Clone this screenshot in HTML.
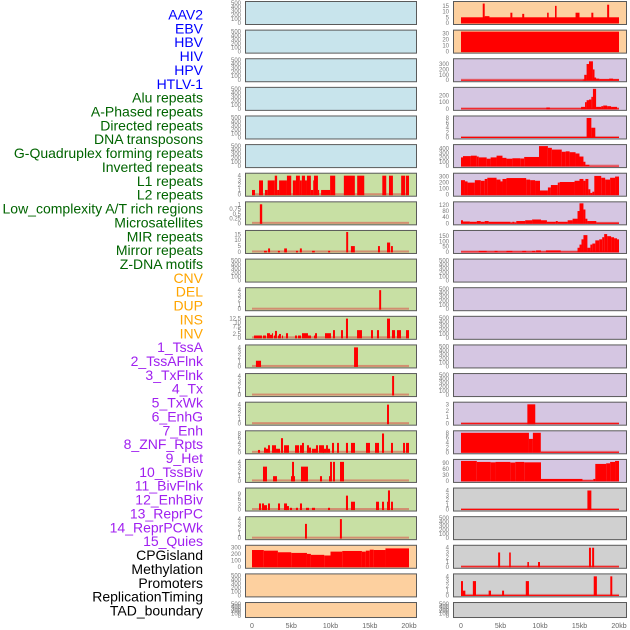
<!DOCTYPE html>
<html><head><meta charset="utf-8"><style>
html,body{margin:0;padding:0;background:#fff;width:630px;height:630px;overflow:hidden}
svg text{font-family:"Liberation Sans",sans-serif}
</style></head><body>
<svg id="chart" width="630" height="630" xmlns="http://www.w3.org/2000/svg"></svg>
<script>
// ---- data ----
const trackLabels = ["AAV2","EBV","HBV","HIV","HPV","HTLV-1","Alu repeats","A-Phased repeats","Directed repeats","DNA transposons","G-Quadruplex forming repeats","Inverted repeats","L1 repeats","L2 repeats","Low_complexity A/T rich regions","Microsatellites","MIR repeats","Mirror repeats","Z-DNA motifs","CNV","DEL","DUP","INS","INV","1_TssA","2_TssAFlnk","3_TxFlnk","4_Tx","5_TxWk","6_EnhG","7_Enh","8_ZNF_Rpts","9_Het","10_TssBiv","11_BivFlnk","12_EnhBiv","13_ReprPC","14_ReprPCWk","15_Quies","CPGisland","Methylation","Promoters","ReplicationTiming","TAD_boundary"];
const labelGroups = ["v","v","v","v","v","v","r","r","r","r","r","r","r","r","r","r","r","r","r","c","c","c","c","c","h","h","h","h","h","h","h","h","h","h","h","h","h","h","h","k","k","k","k","k"];
const xTickLabels = ["0","5kb","10kb","15kb","20kb"];
const xTickValues = [0,5,10,15,20];
const leftBg = ["b","b","b","b","b","b","g","g","g","g","g","g","g","g","g","g","g","g","g","o","o","o"];
const rightBg = ["o","o","p","p","p","p","p","p","p","p","p","p","p","p","p","p","p","y","y","y","y","y"];
const leftMax = [500,500,500,500,500,500,4.2,1.05,17,500,4.2,13,4.2,4.2,4.2,8.5,4.2,11.5,4.2,310,500,500];
const rightMax = [17.5,33,370,300,8.2,460,330,130,190,500,500,500,500,500,3.1,8.2,100,4.2,500,4.2,4.2,500];
const leftTicks = [null,null,null,null,null,null,[0,1,2,3,4],[0,0.25,0.5,0.75,1],[0,5,10,15],null,[0,1,2,3,4],[0,2.5,5,7.5,10,12.5],[0,1,2,3,4],[0,1,2,3,4],[0,1,2,3,4],[0,2,4,6,8],[0,1,2,3,4],[0,3,6,9],[0,1,2,3,4],[0,100,200,300],null,null];
const rightTicks = [[0,5,10,15],[0,10,20,30],[0,100,200,300],[0,100,200],[0,2,4,6,8],[0,100,200,300,400],[0,100,200,300],[0,40,80,120],[0,50,100,150],null,null,null,null,null,[0,1,2,3],[0,2,4,6,8],[0,30,60,90],[0,1,2,3,4],null,[0,1,2,3,4],[0,1,2,3,4],null];
const L6 = [[0,0.38,1],[0.9,1.4,3],[1.65,2.0,1],[2.0,2.9,3],[2.9,3.2,4],[3.2,3.45,1],[3.45,4.45,3],[4.45,5.0,4],[5.2,5.6,3],[5.6,6.1,4],[6.1,6.35,3],[6.35,6.75,4],[6.75,7.0,3],[7.0,7.5,4],[7.5,7.8,1],[7.8,7.9,3],[7.9,8.4,4],[8.4,8.55,1],[8.8,9.95,1],[9.95,10.6,4],[11.7,13.1,4],[13.4,14.3,4],[16.6,17.1,4],[17.45,17.95,4],[19.0,19.5,4],[19.6,20.0,4]];
const L7 = [[1.0,1.3,1]];
const L8 = [[1.53,1.9,1],[2.05,2.3,3],[3.3,3.55,1],[4.1,4.45,3],[5.6,5.85,1],[6.1,6.35,3],[7.65,8.0,1],[9.7,9.95,1],[12.0,12.25,17],[12.6,13.1,5],[16.05,16.3,5],[17.2,17.6,8],[17.7,17.95,5]];
const L10 = [[16.2,16.45,4]];
const L11 = [[0.25,1.27,1.5],[1.4,1.78,1.5],[1.91,2.29,3],[2.29,2.55,2],[2.55,2.68,3],[2.8,2.93,1.5],[2.93,3.18,4.5],[3.31,3.44,1.5],[3.44,3.69,2.5],[3.82,3.95,1.5],[4.33,4.59,3],[5.48,5.73,1.5],[5.86,6.24,1.5],[6.37,7.13,3],[7.13,7.52,1.5],[7.9,8.15,1.5],[8.03,8.28,3],[9.3,10.06,3],[10.32,10.57,5],[11.34,11.59,5],[11.97,12.23,12.5],[13.38,14.01,5],[15.16,15.41,5],[15.92,16.18,5],[17.2,17.58,12.5],[17.83,18.22,5],[18.47,18.98,5],[19.62,20.0,5]];
const L12 = [[0.5,1.15,1.2],[13.0,13.5,4]];
const L13 = [[17.85,18.1,4]];
const L14 = [[17.2,17.45,4]];
const L15 = [[0.76,1.02,1],[1.53,1.78,2],[1.78,2.04,1.5],[2.04,2.29,3],[2.55,3.06,3],[3.06,3.57,1.5],[3.69,3.95,6],[4.08,4.71,3],[5.48,5.99,3],[6.11,6.5,3],[6.37,6.62,4],[7.0,7.26,3],[7.26,7.52,2],[7.64,8.15,1.5],[8.15,8.41,3],[8.54,9.17,3],[9.04,9.43,1.5],[9.43,9.68,3],[9.68,9.94,1.5],[10.19,10.45,4],[10.83,11.08,4],[11.97,12.23,4],[12.61,13.12,4],[14.52,15.03,4],[15.67,16.18,4],[16.56,16.82,8],[17.71,17.96,4],[19.24,19.49,4],[19.62,20.0,4]];
const L16 = [[1.4,1.91,3],[2.68,3.18,1],[4.97,5.48,1],[5.1,5.35,4],[6.24,7.13,3],[8.66,8.92,1],[9.81,10.06,1],[9.94,10.19,4],[10.32,10.57,4],[11.21,11.72,4]];
const L17 = [[0.89,1.15,3.5],[1.27,1.53,3.5],[1.53,1.91,2.5],[2.04,2.29,3.5],[3.31,3.57,3.5],[4.08,4.46,3.5],[4.33,4.71,2],[4.84,5.1,1],[5.6,5.86,1],[6.11,6.37,3.5],[6.88,7.26,1],[7.64,8.03,1],[9.68,9.94,1],[11.97,12.23,8],[12.61,13.12,4.5],[15.8,16.18,4.5],[16.56,16.82,4.5],[17.2,17.45,4.5],[17.32,17.58,11],[17.71,17.96,4.5]];
const L18 = [[6.75,7.0,3],[11.2,11.45,4]];
const L19 = [[0,1.5,260],[1.5,3.3,250],[3.3,5,225],[5,7,215],[7,7.5,200],[7.5,9.2,185],[9.2,10,175],[10,11.5,235],[11.5,14,245],[14,14.5,235],[14.5,15,250],[15,15.5,265],[15.5,17,260],[17,20,285]];
const R0 = [[0,20,5],[2.75,3.0,17],[3.0,3.6,6],[6.25,6.5,9],[7.75,8.0,8],[10.9,11.1,9],[11.9,12.1,15],[14.5,15.0,9],[16.5,16.75,9],[18.5,18.75,16]];
const R1 = [[0,20,33]];
const R2 = [[0,20,10],[15.4,15.8,15],[15.6,15.9,100],[15.9,16.2,300],[16.2,16.7,350],[16.7,16.9,200],[16.9,17.1,50],[17.1,17.5,30],[17.5,18.75,20],[18.75,19.25,30],[19.25,20,20]];
const R3 = [[0,20,8],[10.8,11.25,20],[15.2,15.7,30],[15.7,15.9,100],[15.9,16.2,130],[16.2,16.5,140],[16.5,16.7,180],[16.7,17.1,300],[17.1,17.75,30],[17.75,18,40],[18,18.5,50],[18.5,19,40],[19,19.75,30]];
const R4 = [[0,20,0.2],[15.9,16.5,8],[16.5,17.0,4]];
const R5 = [[0,0.25,200],[0.25,1.25,230],[1.25,2.0,240],[2.0,2.25,220],[2.25,3.25,200],[3.25,3.75,170],[3.75,4.5,200],[4.5,5.25,240],[5.25,5.75,190],[5.75,6.5,170],[6.5,7.5,180],[7.5,8.0,175],[8.0,9.875,210],[9.875,11.0,460],[11.0,11.5,420],[11.5,12.75,380],[12.75,13.25,330],[13.25,13.75,340],[13.75,14.5,320],[14.5,15.0,290],[15.0,15.5,220],[15.5,15.75,100],[15.75,16.25,30],[16.25,20,8]];
const R6 = [[0,0.5,240],[0.5,0.83,220],[0.83,1.75,200],[1.75,2.5,240],[2.5,3.0,230],[3.0,3.33,260],[3.33,4.5,280],[4.5,5.0,250],[5.0,5.25,220],[5.25,5.75,260],[5.75,8.25,275],[8.25,8.75,250],[8.75,9.375,240],[9.375,10.0,230],[10.0,11.0,70],[11.0,11.375,120],[11.375,12.25,160],[12.25,12.5,200],[12.5,14.375,210],[14.375,15.0,230],[15.0,15.5,260],[15.5,15.75,230],[15.75,16.125,260],[16.125,16.375,90],[16.375,16.625,30],[16.625,16.875,50],[16.875,17.75,310],[17.75,18.25,280],[18.25,18.875,250],[18.875,19.5,280],[19.5,20,300]];
const R7 = [[0,0.25,20],[0.25,1.125,12],[1.125,2.0,10],[2.0,2.5,15],[2.5,3.0,10],[3.0,3.5,15],[3.5,6.25,10],[6.25,6.5,5],[6.5,6.75,10],[6.75,7.0,5],[7.0,8.125,15],[8.125,9.0,20],[9.0,10.125,25],[10.125,10.875,20],[10.875,12.0,10],[12.0,12.25,15],[12.25,13.5,10],[13.5,14.125,20],[14.125,14.75,30],[14.75,15.0,80],[15.0,15.5,130],[15.5,15.75,90],[15.75,16.0,30],[16.0,17.125,15],[17.125,20,5]];
const R8 = [[0,20,5],[2.25,3.25,10],[4.25,4.625,10],[5.75,6.5,10],[7.75,8.25,10],[9.0,9.375,10],[9.5,10.125,15],[10.75,12.625,15],[14.75,15.0,40],[15.0,15.25,70],[15.25,15.5,120],[15.5,16.0,160],[16.0,16.375,40],[16.375,16.625,70],[16.625,17.0,80],[17.0,17.5,110],[17.5,17.875,120],[17.875,18.125,140],[18.125,18.5,170],[18.5,19.0,150],[19.0,19.375,140],[19.375,19.75,130],[19.75,20,120]];
const R14 = [[0,20,0.08],[8.4,9.4,3]];
const R15 = [[0,8.6,8],[8.6,9.1,5.5],[9.1,10.1,8],[10.1,20,0.2]];
const R16 = [[0,2.0,100],[2.0,3.75,95],[3.75,4.375,93],[4.375,6.25,95],[6.25,6.875,92],[6.875,8.0,95],[8.0,10.125,93],[10.125,15.375,10],[15.375,16.75,3],[16.75,17.0,10],[17.0,18.375,85],[18.375,18.875,88],[18.875,19.5,95],[19.5,20,100]];
const R17 = [[0,20,0.1],[16.0,16.5,4]];
const R19 = [[0,20,0.1],[4.7,4.95,3],[6.1,6.3,3],[8.4,8.6,1],[9.75,10.0,1],[16.2,16.45,4],[16.6,16.85,4]];
const R20 = [[0,20,0.1],[0,0.25,3],[0.25,0.55,1],[1.5,1.9,3],[3.5,3.8,1],[5.2,5.45,1],[8.2,8.6,3],[16.8,17.2,4],[18.9,19.15,4]];
const leftData = [null,null,null,null,null,null,L6,L7,L8,null,L10,L11,L12,L13,L14,L15,L16,L17,L18,L19,null,null];
const rightData = [R0,R1,R2,R3,R4,R5,R6,R7,R8,null,null,null,null,null,R14,R15,R16,R17,null,R19,R20,null];

// ---- render ----
const NS = "http://www.w3.org/2000/svg";
const svg = document.getElementById("chart");
const bgColors = {b:"#c8e4ec",g:"#c8e0a4",o:"#fdd09f",p:"#d5c6e2",y:"#d0d0d0"};
const groupColors = {v:"#0000ff",r:"#006400",c:"#ffa500",h:"#a020f0",k:"#000000"};
function mk(tag, attrs, parent){const e=document.createElementNS(NS,tag);for(const k in attrs)e.setAttribute(k,attrs[k]);(parent||svg).appendChild(e);return e;}
function rowTop(i){return 1+i*28.62;}
function rowH(i){return i===21?16:24;}
const sides = [{x0:245,x1:417,p0:252,p1:409,bg:leftBg,max:leftMax,ticks:leftTicks,data:leftData,name:"left"},
               {x0:453,x1:627,p0:461,p1:619,bg:rightBg,max:rightMax,ticks:rightTicks,data:rightData,name:"right"}];

trackLabels.forEach((t,i)=>{
  const e = mk("text",{x:203,y:(19.5+i*13.86).toFixed(1),"text-anchor":"end","font-size":"14",fill:groupColors[labelGroups[i]]});
  e.textContent = t;
  
  
});

sides.forEach(s=>{
  const xs = kb => s.p0 + (kb/20)*(s.p1-s.p0);
  for(let i=0;i<22;i++){
    const T=rowTop(i), H=rowH(i);
    const g = mk("g",{});
    
    
    mk("rect",{x:s.x0+0.5,y:T+0.5,width:s.x1-s.x0-1,height:H-1,fill:bgColors[s.bg[i]],stroke:"#5a5a5a","stroke-width":1},g);
    const yb = T+H-2, ph = H-4;
    const ys = v => yb - (v/s.max[i])*ph;
    const ticks = s.ticks[i] || [0,100,200,300,400,500];
    ticks.forEach(tv=>{
      const tt = mk("text",{x:s.x0-4,y:(ys(tv)+2).toFixed(1),"text-anchor":"end","font-size":"6",fill:"#777"},g);
      tt.textContent = String(tv);
      
      
    });
    const d = s.data[i];
    if(d){
      const bl = mk("rect",{x:xs(0),y:yb-1.5,width:xs(20)-xs(0),height:2,fill:"rgba(220,60,60,0.5)"},g);
      
      
      d.forEach(seg=>{
        const v = Math.min(seg[2], s.max[i]);
        const r = mk("rect",{x:xs(seg[0]).toFixed(2),y:ys(v).toFixed(2),width:Math.max(0.8,xs(seg[1])-xs(seg[0])).toFixed(2),height:(yb-ys(v)+0.5).toFixed(2),fill:"#ff0000"},g);
        
        
      });
    }
  }
  xTickValues.forEach((v,k)=>{
    const t = mk("text",{x:xs(v).toFixed(1),y:628,"text-anchor":"middle","font-size":"7",fill:"#666"});
    t.textContent = xTickLabels[k];
    
    
  });
});
</script>
</body></html>
